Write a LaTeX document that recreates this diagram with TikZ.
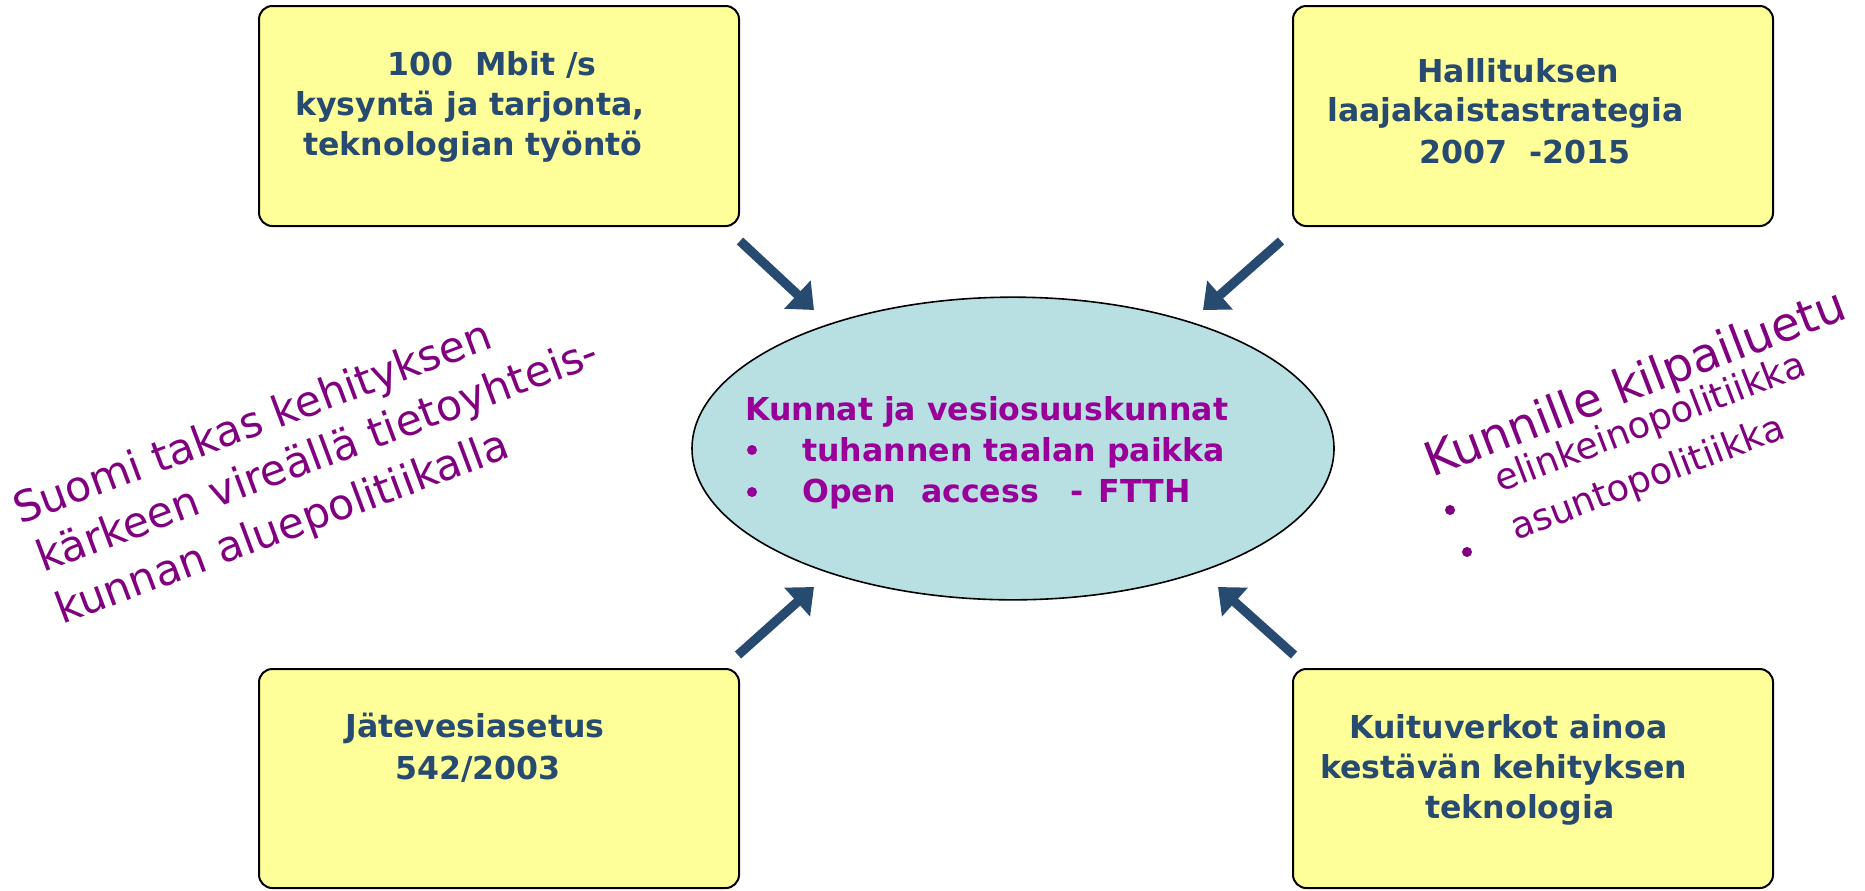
\documentclass[tikz,border=0pt]{standalone}
\usepackage{fontspec}
\setmainfont{DejaVu Sans}
\usetikzlibrary{shapes.geometric,arrows.meta}
\definecolor{boxfill}{RGB}{255,255,153}
\definecolor{navy}{RGB}{38,74,112}
\definecolor{ellfill}{RGB}{184,224,227}
\definecolor{mag}{RGB}{153,0,153}
\definecolor{purp}{RGB}{128,0,128}
\begin{document}
\begin{tikzpicture}[x=0.75pt,y=-0.75pt,
  box/.style={draw=black, line width=1.5pt, fill=boxfill, rounded corners=10pt,
    minimum width=360pt, minimum height=165pt, inner sep=0pt},
  ell/.style={ellipse, draw=black, line width=1.2pt, fill=ellfill,
    minimum width=481.5pt, minimum height=227pt, inner sep=0pt},
  btxt/.style={anchor=base west, inner sep=0pt, text=navy,
    font=\fontsize{23.7}{28}\selectfont\bfseries},
  etxt/.style={btxt, text=mag},
  rtxt/.style={anchor=base west, inner sep=0pt, text=purp, rotate=20.5,
    font=\fontsize{32}{38}\selectfont},
  ktxt/.style={anchor=base west, inner sep=0pt, text=purp, rotate=21},
  arr/.style={-{Triangle[length=17pt,width=28pt]}, line width=7pt, draw=navy},
  dotm/.style={circle, fill=mag, inner sep=0pt, minimum size=7.5pt},
  dotp/.style={circle, fill=purp, inner sep=0pt, minimum size=7.5pt}]
\useasboundingbox (0,0) rectangle (1865,890);

% boxes
\node[box] (tl) at (499,116) {};
\node[box] (tr) at (1533,116) {};
\node[box, minimum height=164.25pt] (bl) at (499,778.5) {};
\node[box, minimum height=164.25pt] (br) at (1533,778.5) {};

% ellipse
\node[ell] (c) at (1013,448.5) {};

% box texts
\node[btxt] (tl1) at (387,75) {100~~Mbit /s};
\node[btxt] (tl2) at (295,115) {kysyntä ja tarjonta,};
\node[btxt] (tl3) at (303,155) {teknologian työntö};

\node[btxt] (tr1) at (1417,82) {Hallituksen};
\node[btxt] (tr2) at (1327,121) {laajakaistastrategia};
\node[btxt] (tr3) at (1419,163) {2007~~-2015};

\node[btxt] (bl1) at (345,737) {Jätevesiasetus};
\node[btxt] (bl2) at (395,779) {542/2003};

\node[btxt] (br1) at (1349,738) {Kuituverkot ainoa};
\node[btxt] (br2) at (1320,778) {kestävän kehityksen};
\node[btxt] (br3) at (1425,818) {teknologia};

% ellipse texts
\node[etxt] (c1) at (745,420) {Kunnat ja vesiosuuskunnat};
\node[dotm] (cb1) at (752,450) {};
\node[etxt] (c2) at (802,461) {tuhannen taalan paikka};
\node[dotm] (cb2) at (752,492) {};
\node[etxt] (c3) at (802,502) {Open\hspace{19pt}access\hspace{24pt}-\hspace{11pt}FTTH};

% arrows
\coordinate (a1s) at (740,241); \coordinate (a1e) at (814,310);
\coordinate (a2s) at (1281,241); \coordinate (a2e) at (1203,310);
\coordinate (a3s) at (738,655); \coordinate (a3e) at (814,587);
\coordinate (a4s) at (1294,655); \coordinate (a4e) at (1218,587);
\draw[arr] (a1s) -- (a1e);
\draw[arr] (a2s) -- (a2e);
\draw[arr] (a3s) -- (a3e);
\draw[arr] (a4s) -- (a4e);

% left rotated text
\node[rtxt] (l1) at (20,525) {Suomi takas kehityksen};
\node[rtxt] (l2) at (43,573) {kärkeen vireällä tietoyhteis-};
\node[rtxt] (l3) at (62,625) {kunnan aluepolitiikalla};

% right rotated text
\node[ktxt, font=\fontsize{35.3}{42}\selectfont] (r1) at (1432,478) {Kunnille kilpailuetu};
\node[ktxt, font=\fontsize{27.5}{33}\selectfont] (r2) at (1500,493) {elinkeinopolitiikka};
\node[ktxt, font=\fontsize{27.5}{33}\selectfont] (r3) at (1516,541) {asuntopolitiikka};
\node[dotp] (rb1) at (1450,510) {};
\node[dotp] (rb2) at (1467,552) {};
\end{tikzpicture}
\end{document}
